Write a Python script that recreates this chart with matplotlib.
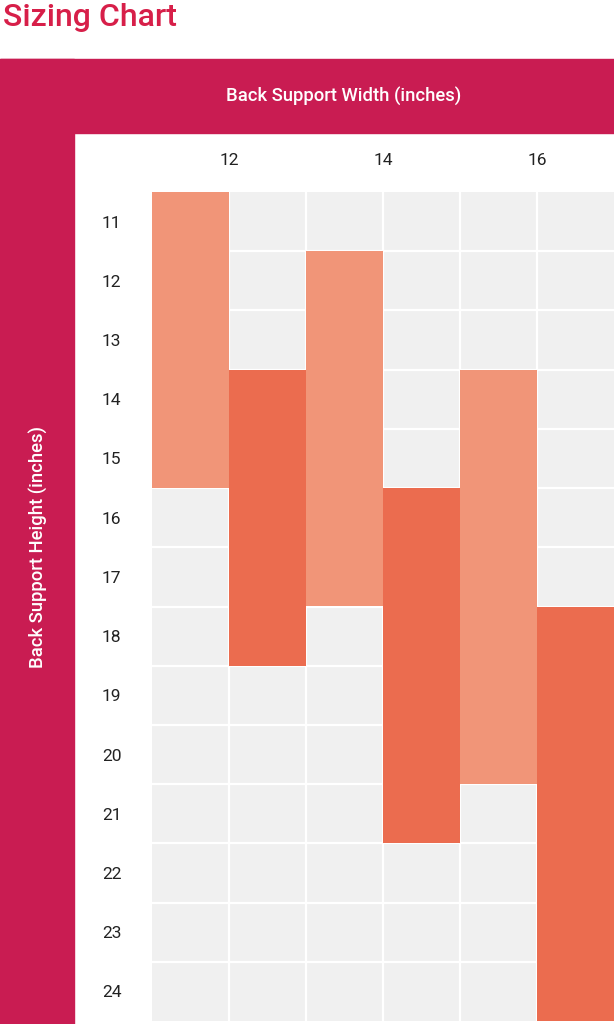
import matplotlib
matplotlib.use('Agg')
import matplotlib.pyplot as plt
from matplotlib.patches import Rectangle

plt.rcParams['font.family'] = ['Roboto', 'DejaVu Sans']

# width columns (inches, left edge) and height range covered by each size
cols = [11, 12, 13, 14, 15, 16]
h_min = [11, 14, 12, 16, 14, 18]
h_max = [15, 18, 17, 21, 20, 24]
shade = ['light', 'dark', 'light', 'dark', 'light', 'dark']

x_ticks = [12, 14, 16]
y_ticks = list(range(11, 25))

colors = {'light': '#f19578', 'dark': '#eb6c4f'}
band = '#c91c52'

W, H = 614, 1024
fig = plt.figure(figsize=(W / 100, H / 100), dpi=100)

# magenta frame (top band + left band)
fig.patches.append(Rectangle((0, 1 - 133 / H), 1, 74 / H, transform=fig.transFigure,
                             color=band, zorder=0))
fig.patches.append(Rectangle((0, 0), 74 / W, 1 - 59 / H, transform=fig.transFigure,
                             color=band, zorder=0))

fig.text(3 / W, 1 - 17 / H, 'Sizing Chart', color='#d71f49', fontsize=23,
         fontweight='medium', ha='left', va='center')
fig.text(344 / W, 1 - 97 / H, 'Back Support Width (inches)', color='white',
         fontsize=13.3, fontweight='medium', ha='center', va='center')
fig.text(39 / W, 1 - 547 / H, 'Back Support Height (inches)', color='white',
         fontsize=13.3, fontweight='medium', ha='center', va='center', rotation=90)

ax = fig.add_axes([152 / W, 3 / H, 1 - 152 / W, (1021 - 192) / H])
ax.set_facecolor('#f0f0f0')
ax.set_xlim(11, 17)
ax.set_ylim(24.5, 10.5)

for x in range(12, 17):
    ax.axvline(x, color='white', lw=1.6, zorder=1)
for y in range(11, 24):
    ax.axhline(y + 0.5, color='white', lw=1.6, zorder=1)

for c, lo, hi, s in zip(cols, h_min, h_max, shade):
    ax.bar(c, hi - lo + 1, bottom=lo - 0.5, width=1, align='edge',
           color=colors[s], zorder=2)

ax.xaxis.tick_top()
ax.set_xticks(x_ticks)
ax.set_xticklabels([str(v) for v in x_ticks])
ax.set_yticks(y_ticks)
ax.set_yticklabels([str(v) for v in y_ticks])
ax.tick_params(axis='x', length=0, pad=17, labelsize=12.5, labelcolor='#222222')
ax.tick_params(axis='y', length=0, pad=22, labelsize=12.5, labelcolor='#222222')
for sp in ax.spines.values():
    sp.set_visible(False)

fig.savefig('out.png', dpi=100)
